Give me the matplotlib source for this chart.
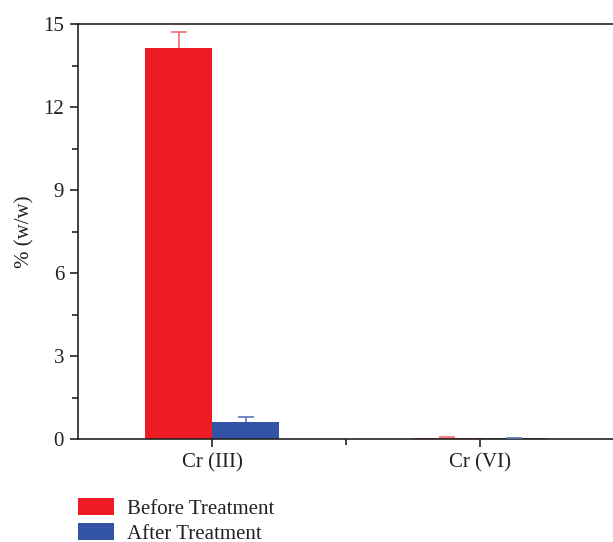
import matplotlib
matplotlib.use("Agg")
import matplotlib.pyplot as plt
from matplotlib.patches import Patch
from matplotlib.ticker import MultipleLocator, FixedLocator
import numpy as np

categories = ["Cr (III)", "Cr (VI)"]
before = [14.13, 0.05]
before_err = [0.58, 0.02]
after = [0.61, 0.03]
after_err = [0.19, 0.01]
yticks = [0, 3, 6, 9, 12, 15]

plt.rcParams['font.family'] = ['Liberation Serif', 'DejaVu Serif']
red = "#ED1C24"
blue = "#3353A4"
red_err = "#F26B6B"
blue_err = "#5A74B8"
fs = 15

fig = plt.figure(figsize=(6.13, 5.42), dpi=100)
ax = fig.add_axes([78/613, 1-439/542, 536/613, 415/542])

x = np.arange(len(categories))
w = 0.25
ax.bar(x - w/2, before, width=w, color=red, zorder=2)
ax.bar(x + w/2, after, width=w, color=blue, zorder=2)
for xs, vals, errs, ec in [(x - w/2, before, before_err, red_err),
                           (x + w/2, after, after_err, blue_err)]:
    _, caps, _ = ax.errorbar(xs, vals, yerr=[np.zeros(len(vals)), errs], fmt='none',
                             ecolor=ec, elinewidth=1.2, capsize=6, capthick=1.2, zorder=3)
    caps[0].set_visible(False)

ax.set_xlim(-0.5, 1.5)
ax.set_ylim(0, 15)
ax.set_xticks(x)
ax.set_xticklabels(categories)
ax.xaxis.set_minor_locator(FixedLocator([0.5]))
ax.set_yticks(yticks)
ax.yaxis.set_minor_locator(MultipleLocator(1.5))
ax.tick_params(axis='both', which='major', direction='out', length=6, width=1.2,
               labelsize=fs, color='#222222', labelcolor='#222222', pad=4)
ax.tick_params(axis='both', which='minor', direction='out', length=4, width=1.2,
               color='#222222')
for s in ['left', 'bottom', 'top']:
    ax.spines[s].set_linewidth(1.2)
    ax.spines[s].set_color('#222222')
ax.spines['right'].set_visible(False)
ax.set_ylabel("% (w/w)", fontsize=fs, color='#222222', labelpad=6)

handles = [Patch(facecolor=red, label="Before Treatment"),
           Patch(facecolor=blue, label="After Treatment")]
fig.legend(handles=handles, loc='upper left', bbox_to_anchor=(70/613, 1-490/542),
           frameon=False, fontsize=fs, handlelength=1.7, handleheight=0.85,
           labelspacing=0.2, handletextpad=0.65, borderaxespad=0, labelcolor='#222222')

fig.savefig("out.png", dpi=100)
